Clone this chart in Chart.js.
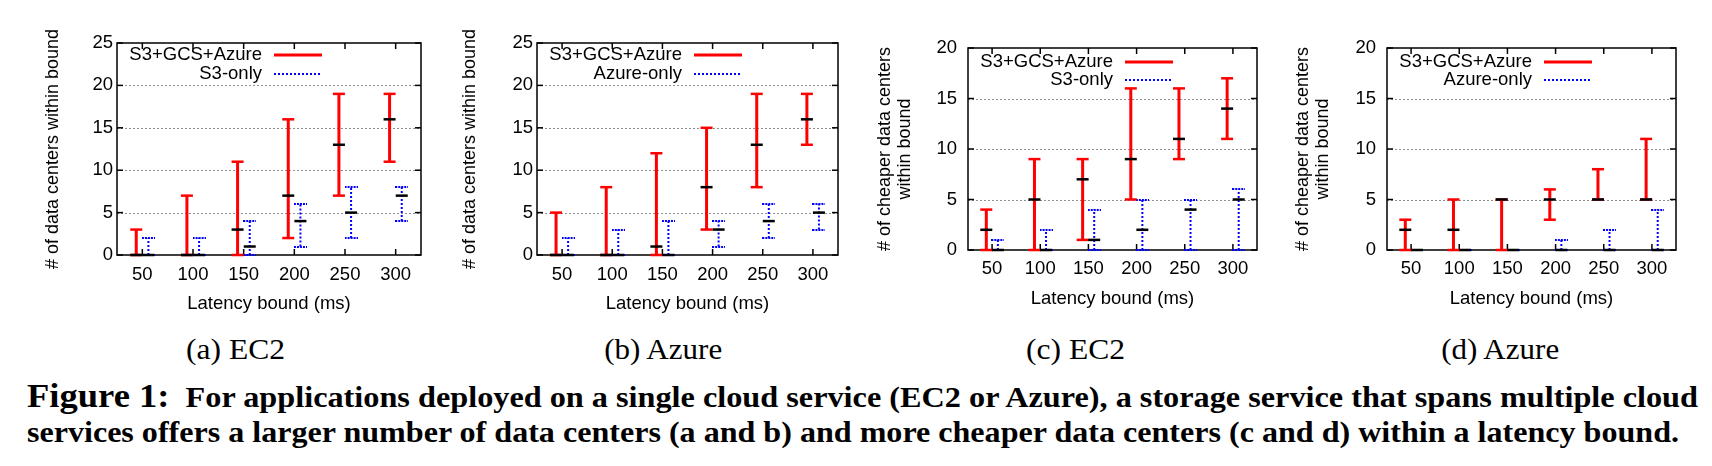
<!DOCTYPE html>
<html>
<head>
<meta charset="utf-8">
<title>Figure 1</title>
<script src="https://cdn.jsdelivr.net/npm/chart.js@4.4.1/dist/chart.umd.min.js"></script>
<style>
html, body { margin: 0; padding: 0; background: #fff; }
body { width: 1712px; height: 466px; position: relative; overflow: hidden; }
.panel { position: absolute; top: 0; height: 320px; }
.sub { position: absolute; top: 333px; font-family: "Liberation Serif", "Times New Roman", serif; font-size: 29px; line-height: 32px; white-space: nowrap; color: #000; }
.cap { position: absolute; left: 27px; font-family: "Liberation Serif", "Times New Roman", serif; font-weight: bold; font-size: 30px; line-height: 34px; white-space: nowrap; color: #000; transform-origin: left center; }
.cap .fig { font-size: 34px; line-height: 34px; }
</style>
</head>
<body>
<div class="panel" style="left:0;width:440px"><canvas id="chartA"></canvas></div>
<div class="panel" style="left:420px;width:440px"><canvas id="chartB"></canvas></div>
<div class="panel" style="left:820px;width:460px"><canvas id="chartC"></canvas></div>
<div class="panel" style="left:1240px;width:472px"><canvas id="chartD"></canvas></div>

<div class="sub" data-cx="235" data-w="99">(a) EC2</div>
<div class="sub" data-cx="663" data-w="118">(b) Azure</div>
<div class="sub" data-cx="1075" data-w="99">(c) EC2</div>
<div class="sub" data-cx="1500" data-w="118">(d) Azure</div>

<div class="cap" style="top:379px" data-w="1671"><span class="fig">Figure 1:</span>&nbsp; For applications deployed on a single cloud service (EC2 or Azure), a storage service that spans multiple cloud</div>
<div class="cap" style="top:415px" data-w="1652">services offers a larger number of data centers (a and b) and more cheaper data centers (c and d) within a latency bound.</div>

<script>
// Latency bounds (ms) on the x axis
const latency = [50, 100, 150, 200, 250, 300];

// (a) EC2: # of data centers within bound (min / median / max)
const ec2AllMin = [0, 0, 0, 2, 7, 11];
const ec2AllMed = [0, 0, 3, 7, 13, 16];
const ec2AllMax = [3, 7, 11, 16, 19, 19];
const ec2S3Min = [0, 0, 0, 1, 2, 4];
const ec2S3Med = [0, 0, 1, 4, 5, 7];
const ec2S3Max = [2, 2, 4, 6, 8, 8];

// (b) Azure
const azAllMin = [0, 0, 0, 3, 8, 13];
const azAllMed = [0, 0, 1, 8, 13, 16];
const azAllMax = [5, 8, 12, 15, 19, 19];
const azOnlyMin = [0, 0, 0, 1, 2, 3];
const azOnlyMed = [0, 0, 0, 3, 4, 5];
const azOnlyMax = [2, 3, 4, 4, 6, 6];

// (c) EC2: # of cheaper data centers within bound
const ec2CheapAllMin = [0, 0, 1, 5, 9, 11];
const ec2CheapAllMed = [2, 5, 7, 9, 11, 14];
const ec2CheapAllMax = [4, 9, 9, 16, 16, 17];
const ec2CheapS3Min = [0, 0, 0, 0, 0, 0];
const ec2CheapS3Med = [0, 0, 1, 2, 4, 5];
const ec2CheapS3Max = [1, 2, 4, 5, 5, 6];

// (d) Azure: # of cheaper data centers within bound
const azCheapAllMin = [0, 0, 0, 3, 5, 5];
const azCheapAllMed = [2, 2, 5, 5, 5, 5];
const azCheapAllMax = [3, 5, 5, 6, 8, 11];
const azCheapOnlyMin = [0, 0, 0, 0, 0, 0];
const azCheapOnlyMed = [0, 0, 0, 0, 0, 0];
const azCheapOnlyMax = [0, 0, 0, 1, 2, 4];

const xTicks = latency;
const yTicks25 = [0, 5, 10, 15, 20, 25];
const yTicks20 = [0, 5, 10, 15, 20];

const RED = '#ff0000';
const BLUE = '#0000ff';
const SHIFT = 6; // each series sits a little left/right of its latency tick
const FONT = '"Liberation Sans", Arial, Helvetica, sans-serif';

Chart.defaults.font.family = FONT;
Chart.defaults.font.size = 18.5;
Chart.defaults.color = '#000';

// dotted whisker cap used as a point style for the blue series
const dottedCap = document.createElement('canvas');
dottedCap.width = 13;
dottedCap.height = 2;
(function () {
    const c = dottedCap.getContext('2d');
    c.fillStyle = BLUE;
    for (let i = 0; i < 13; i += 3) c.fillRect(i, 0, 2, 2);
})();

function stemPoints(offset, lo, hi) {
    const pts = [];
    latency.forEach((x, i) => {
        pts.push({x: x + offset, y: lo[i]}, {x: x + offset, y: hi[i]}, {x: x + offset, y: null});
    });
    return pts;
}

function markPoints(offset, vals) {
    return latency.map((x, i) => ({x: x + offset, y: vals[i]}));
}

// one min/median/max series -> stem line + caps + median tick
function errorSeries(label, offset, lo, med, hi, color, dotted) {
    return [
        {
            type: 'scatter', order: 0, data: markPoints(offset, med),
            pointStyle: 'line', pointRadius: 6, pointHoverRadius: 6,
            pointBorderWidth: 2.5, borderColor: '#000', backgroundColor: '#000', clip: false
        },
        {
            type: 'scatter', order: 1, data: markPoints(offset, lo).concat(markPoints(offset, hi)),
            pointStyle: dotted ? dottedCap : 'line', pointRadius: 6, pointHoverRadius: 6,
            pointBorderWidth: 2.5, borderColor: color, backgroundColor: color, clip: false
        },
        {
            type: 'line', order: 2, label: label, legendEntry: true, data: stemPoints(offset, lo, hi),
            borderColor: color, borderWidth: dotted ? 2 : 3, borderDash: dotted ? [2, 2] : [],
            pointRadius: 0, spanGaps: false, clip: false
        }
    ];
}

// gnuplot style frame, dotted grid, inward tick marks and a right-aligned key
const gnuplotLook = {
    id: 'gnuplotLook',
    beforeDatasetsDraw(chart) {
        const {ctx, chartArea: a, scales: {x, y}} = chart;
        const seg = (x1, y1, x2, y2) => { ctx.beginPath(); ctx.moveTo(x1, y1); ctx.lineTo(x2, y2); ctx.stroke(); };
        ctx.save();
        ctx.strokeStyle = '#909090';
        ctx.lineWidth = 1;
        ctx.setLineDash([2, 2]);
        y.ticks.forEach(t => {
            if (t.value === y.min || t.value === y.max) return;
            const py = Math.round(y.getPixelForValue(t.value)) + 0.5;
            seg(a.left, py, a.right, py);
        });
        ctx.setLineDash([]);
        ctx.strokeStyle = '#000';
        ctx.lineWidth = 1.5;
        y.ticks.forEach(t => {
            const py = y.getPixelForValue(t.value);
            seg(a.left, py, a.left + 6, py);
            seg(a.right - 6, py, a.right, py);
        });
        x.ticks.forEach(t => {
            const px = x.getPixelForValue(t.value);
            seg(px, a.bottom, px, a.bottom - 6);
            seg(px, a.top, px, a.top + 6);
        });
        ctx.strokeRect(a.left, a.top, a.right - a.left, a.bottom - a.top);
        ctx.restore();
    },
    afterDatasetsDraw(chart, args, opts) {
        const {ctx, chartArea: a} = chart;
        const entries = chart.data.datasets.filter(d => d.legendEntry);
        ctx.save();
        ctx.font = '18.5px ' + FONT;
        ctx.textAlign = 'right';
        ctx.textBaseline = 'middle';
        entries.forEach((d, i) => {
            const ry = a.top + opts.rows[i];
            ctx.fillStyle = '#000';
            ctx.fillText(d.label, a.left + opts.textRight, ry);
            ctx.strokeStyle = d.borderColor;
            ctx.lineWidth = d.borderWidth;
            ctx.setLineDash(d.borderDash);
            ctx.beginPath();
            ctx.moveTo(a.left + opts.sampleFrom, ry);
            ctx.lineTo(a.left + opts.sampleTo, ry);
            ctx.stroke();
        });
        ctx.restore();
    }
};

function makePanel(id, p) {
    const datasets = [].concat(
        errorSeries('S3+GCS+Azure', -SHIFT, p.redLo, p.redMed, p.redHi, RED, false),
        errorSeries(p.blueLabel, SHIFT, p.blueLo, p.blueMed, p.blueHi, BLUE, true)
    );
    return new Chart(document.getElementById(id), {
        type: 'scatter',
        data: {datasets},
        plugins: [gnuplotLook],
        options: {
            animation: false,
            responsive: true,
            maintainAspectRatio: false,
            events: [],
            layout: {padding: {top: p.padTop, right: p.padRight, bottom: 0, left: 0}},
            plugins: {
                legend: {display: false},
                tooltip: {enabled: false},
                gnuplotLook: {textRight: 145, sampleFrom: 157, sampleTo: 205, rows: p.keyRows}
            },
            scales: {
                x: {
                    type: 'linear', min: 25, max: 325,
                    grid: {display: false, drawTicks: false},
                    border: {display: false},
                    afterBuildTicks: s => { s.ticks = xTicks.map(v => ({value: v})); },
                    afterFit: s => { s.height = p.xHeight; },
                    ticks: {padding: p.xTickPad, maxRotation: 0, autoSkip: false},
                    title: {display: true, text: 'Latency bound (ms)', padding: {top: 0, bottom: p.xTitlePad}}
                },
                y: {
                    type: 'linear', min: 0, max: p.yTicks[p.yTicks.length - 1],
                    grid: {display: false, drawTicks: false},
                    border: {display: false},
                    afterBuildTicks: s => { s.ticks = p.yTicks.map(v => ({value: v})); },
                    afterFit: s => { s.width = p.yWidth; },
                    ticks: {padding: p.yTickPad},
                    title: {
                        display: true, text: p.yTitle,
                        font: {size: 18, lineHeight: 1.1},
                        padding: {top: p.yTitlePad, bottom: 0}
                    }
                }
            }
        }
    });
}

makePanel('chartA', {
    redLo: ec2AllMin, redMed: ec2AllMed, redHi: ec2AllMax,
    blueLabel: 'S3-only', blueLo: ec2S3Min, blueMed: ec2S3Med, blueHi: ec2S3Max,
    yTicks: yTicks25, yTitle: '# of data centers within bound',
    padTop: 43, padRight: 19, yWidth: 117, xHeight: 65,
    yTitlePad: 43, xTitlePad: 5, xTickPad: 9, yTickPad: 4, keyRows: [12, 31]
});
makePanel('chartB', {
    redLo: azAllMin, redMed: azAllMed, redHi: azAllMax,
    blueLabel: 'Azure-only', blueLo: azOnlyMin, blueMed: azOnlyMed, blueHi: azOnlyMax,
    yTicks: yTicks25, yTitle: '# of data centers within bound',
    padTop: 43, padRight: 22, yWidth: 117, xHeight: 65,
    yTitlePad: 40, xTitlePad: 5, xTickPad: 9, yTickPad: 4, keyRows: [12, 31]
});
makePanel('chartC', {
    redLo: ec2CheapAllMin, redMed: ec2CheapAllMed, redHi: ec2CheapAllMax,
    blueLabel: 'S3-only', blueLo: ec2CheapS3Min, blueMed: ec2CheapS3Med, blueHi: ec2CheapS3Max,
    yTicks: yTicks20, yTitle: ['# of cheaper data centers', 'within bound'],
    padTop: 48, padRight: 23, yWidth: 148, xHeight: 70,
    yTitlePad: 55, xTitlePad: 10, xTickPad: 8, yTickPad: 11, keyRows: [14, 32]
});
makePanel('chartD', {
    redLo: azCheapAllMin, redMed: azCheapAllMed, redHi: azCheapAllMax,
    blueLabel: 'Azure-only', blueLo: azCheapOnlyMin, blueMed: azCheapOnlyMed, blueHi: azCheapOnlyMax,
    yTicks: yTicks20, yTitle: ['# of cheaper data centers', 'within bound'],
    padTop: 48, padRight: 36, yWidth: 147, xHeight: 70,
    yTitlePad: 53, xTitlePad: 10, xTickPad: 8, yTickPad: 11, keyRows: [14, 32]
});

// stretch caption lines and sub-figure labels to the widths they have in the figure
document.fonts.ready.then(() => {
    document.querySelectorAll('.cap').forEach(el => {
        const w = el.getBoundingClientRect().width;
        el.style.transform = 'scaleX(' + (Number(el.dataset.w) / w) + ')';
    });
    document.querySelectorAll('.sub').forEach(el => {
        const w = el.getBoundingClientRect().width;
        el.style.left = (Number(el.dataset.cx) - w / 2) + 'px';
        el.style.transform = 'scaleX(' + (Number(el.dataset.w) / w) + ')';
    });
});
</script>
</body>
</html>
